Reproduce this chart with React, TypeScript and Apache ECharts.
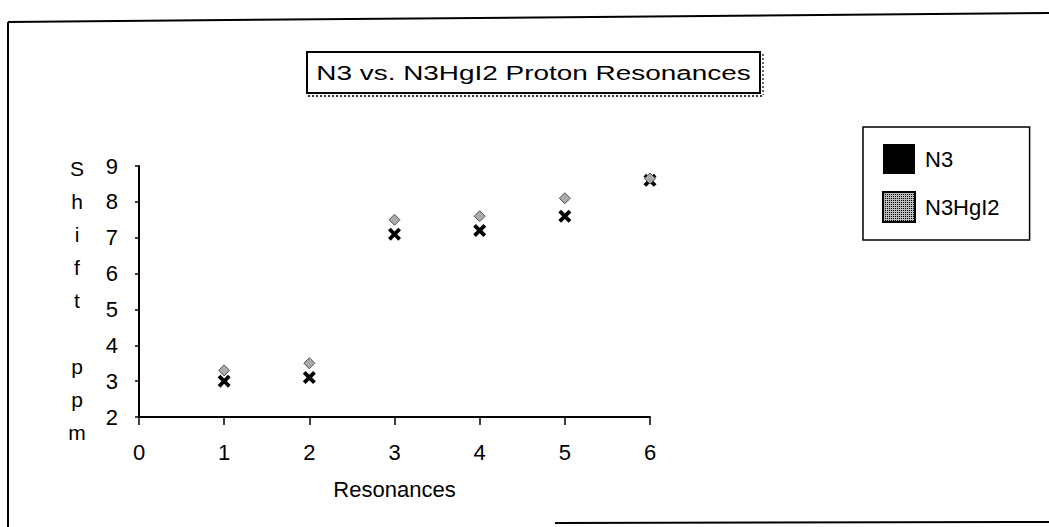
import React, { useEffect, useRef } from "react";
import * as echarts from "echarts";

const resonances = [1, 2, 3, 4, 5, 6];
const n3Values = [3.0, 3.1, 7.1, 7.2, 7.6, 8.6];
const n3hgi2Values = [3.3, 3.5, 7.5, 7.6, 8.1, 8.65];
const seriesNames = ["N3", "N3HgI2"];
const xTicks = { min: 0, max: 6, interval: 1 };
const yTicks = { min: 2, max: 9, interval: 1 };
const titleText = "N3 vs. N3HgI2 Proton Resonances";
const xAxisTitle = "Resonances";
const yAxisTitle = "S\nh\ni\nf\nt\n\np\np\nm";

const FONT = "'Liberation Sans', Arial, Helvetica, sans-serif";

const stipple = {
  symbol: "rect",
  symbolSize: 1,
  color: "#000",
  backgroundColor: "#fff",
  dashArrayX: [1, 1],
  dashArrayY: [1, 1],
  rotation: 0,
};

export default function App() {
  const ref = useRef<HTMLDivElement>(null);

  useEffect(() => {
    if (!ref.current) return;
    const chart = echarts.init(ref.current, undefined, { renderer: "svg" });
    const crossPath =
      "path://M0,2.5 L2.5,0 L6,3.5 L9.5,0 L12,2.5 L8.5,6 L12,9.5 L9.5,12 L6,8.5 L2.5,12 L0,9.5 L3.5,6 Z";

    chart.setOption({
      animation: false,
      backgroundColor: "#fff",
      textStyle: { fontFamily: FONT, color: "#000" },
      grid: { left: 139, right: 399, top: 166, bottom: 110, containLabel: false },
      legend: {
        orient: "vertical",
        left: 863,
        top: 127,
        padding: [17, 30, 17, 19],
        itemGap: 17,
        itemWidth: 32,
        itemHeight: 30,
        borderColor: "#000",
        borderWidth: 1.5,
        textStyle: { fontSize: 22, fontFamily: FONT, color: "#000", padding: [0, 0, 0, 5] },
        data: [
          { name: seriesNames[0], icon: "rect", itemStyle: { color: "#000", borderWidth: 0, opacity: 1 } },
          {
            name: seriesNames[1],
            icon: "rect",
            itemStyle: { color: "#bbb", borderColor: "#000", borderWidth: 2, decal: stipple },
          },
        ],
      },
      xAxis: {
        type: "value",
        min: xTicks.min,
        max: xTicks.max,
        interval: xTicks.interval,
        name: xAxisTitle,
        nameLocation: "middle",
        nameGap: 61,
        nameTextStyle: { fontSize: 22, fontFamily: FONT, color: "#000" },
        axisLine: { show: true, onZero: false, lineStyle: { color: "#000", width: 2 } },
        axisTick: { show: true, length: 8, lineStyle: { color: "#000", width: 1.5 } },
        axisLabel: { fontSize: 22, fontFamily: FONT, color: "#000", margin: 24 },
        splitLine: { show: false },
      },
      yAxis: [
        {
          type: "value",
          min: yTicks.min,
          max: yTicks.max,
          interval: yTicks.interval,
          axisLine: { show: true, onZero: false, lineStyle: { color: "#000", width: 2 } },
          axisTick: { show: false },
          axisLabel: { show: false },
          splitLine: { show: false },
        },
        {
          type: "value",
          position: "left",
          offset: 8,
          min: yTicks.min,
          max: yTicks.max,
          interval: yTicks.interval,
          axisLine: { show: false },
          axisTick: { show: true, length: 4, lineStyle: { color: "#000", width: 1.5 } },
          axisLabel: { fontSize: 22, fontFamily: FONT, color: "#000", margin: 13 },
          splitLine: { show: false },
        },
      ],
      series: [
        {
          name: seriesNames[0],
          type: "scatter",
          yAxisIndex: 0,
          symbol: crossPath,
          symbolSize: [13, 13],
          itemStyle: { color: "#000", opacity: 1 },
          data: resonances.map((x, i) => [x, n3Values[i]]),
          z: 2,
        },
        {
          name: seriesNames[1],
          type: "scatter",
          yAxisIndex: 0,
          symbol: "diamond",
          symbolSize: [11, 11],
          itemStyle: { color: "#aaa", borderColor: "#555", borderWidth: 1, decal: stipple, opacity: 1 },
          data: resonances.map((x, i) => [x, n3hgi2Values[i]]),
          z: 3,
        },
      ],
      graphic: [
        { type: "line", shape: { x1: 8, y1: 22, x2: 1049, y2: 13 }, style: { stroke: "#000", lineWidth: 2 } },
        { type: "line", shape: { x1: 8, y1: 22, x2: 8, y2: 527 }, style: { stroke: "#000", lineWidth: 2 } },
        { type: "line", shape: { x1: 555, y1: 523, x2: 1049, y2: 522 }, style: { stroke: "#000", lineWidth: 2 } },
        {
          type: "rect",
          shape: { x: 307, y: 52, width: 453, height: 41 },
          style: { fill: "#fff", stroke: "#000", lineWidth: 2 },
        },
        {
          type: "line",
          shape: { x1: 308, y1: 96, x2: 762, y2: 96 },
          style: { stroke: "#333", lineWidth: 2, lineDash: [2, 2] },
        },
        {
          type: "line",
          shape: { x1: 763, y1: 54, x2: 763, y2: 95 },
          style: { stroke: "#333", lineWidth: 1.5, lineDash: [2, 2] },
        },
        {
          type: "text",
          x: 533.5,
          y: 73,
          scaleX: 1.33,
          style: {
            text: titleText,
            fontSize: 21,
            fontFamily: FONT,
            fill: "#000",
            align: "center",
            verticalAlign: "middle",
          },
        },
        {
          type: "text",
          x: 77,
          y: 300,
          style: {
            text: yAxisTitle,
            fontSize: 21,
            lineHeight: 33,
            fontFamily: FONT,
            fill: "#000",
            align: "center",
            verticalAlign: "middle",
          },
        },
      ],
    });

    return () => chart.dispose();
  }, []);

  return <div ref={ref} style={{ width: 1049, height: 527, position: "absolute", left: 0, top: 0 }} />;
}
